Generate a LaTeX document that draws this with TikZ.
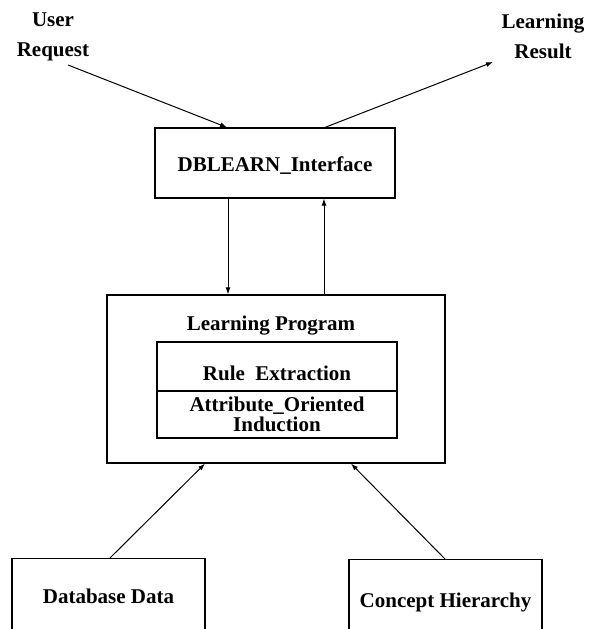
\documentclass[tikz,border=0pt]{standalone}
\usepackage{fontspec}
\setmainfont{Liberation Serif}
\usetikzlibrary{positioning,arrows.meta}

\begin{document}
\begin{tikzpicture}[
		x=1pt, y=-1pt,
		font=\bfseries\fontsize{21}{30}\selectfont,
		>={Latex[length=7pt,width=5pt]},
		box/.style = {draw, line width=1.2pt, rectangle, inner sep=0pt, text depth=0pt},
		txt/.style = {align=center, inner sep=0pt},
		link/.style = {->, line width=1pt}
	]
	\useasboundingbox (0,0) rectangle (591,629);
	\clip (0,0) rectangle (591,629);
	% Top labels.
	\node[txt] (user) at (53,37) {User\\Request};
	\node[txt] (learn) at (543,36) {Learning\\Result};
	\coordinate (req) at (68,65);
	\coordinate (res) at (493,62);
	% Interface.
	\node[box, minimum width=240pt, minimum height=70pt, text height=16pt] (iface) at (275,163) {DBLEARN\_Interface};
	% Learning program.
	\node[box, minimum width=338pt, minimum height=168pt] (prog) at (276,379) {};
	\node[txt, anchor=base] (progtitle) at (271,330) {Learning Program};
	\node[box, minimum width=240pt, minimum height=49pt, text height=27pt] (rule) at (277,366.5) {Rule\ \ Extraction};
	\node[box, minimum width=240pt, minimum height=47pt, align=center] (induct) at (277,414.5) {Attribute\_Oriented\\[-10pt]Induction};
	% Sources.
	\node[box, minimum width=193pt, minimum height=74pt, text height=16pt, anchor=north] (db) at (108.5,558) {Database Data};
	\node[box, minimum width=193pt, minimum height=80pt, text height=16pt, anchor=north] (concept) at (445.5,559) {Concept Hierarchy};

	\draw[link] (req) to ([xshift=-48pt]iface.north);
	\draw[link] ([xshift=50pt]iface.north) to (res);
	\draw[link] ([xshift=-47pt]iface.south) to ([xshift=-47pt]iface.south |- prog.north);
	\draw[link] ([xshift=49pt]iface.south |- prog.north) to ([xshift=49pt]iface.south);
	\draw[link] ([xshift=1.5pt]db.north) to ([xshift=-71pt]prog.south);
	\draw[link] ([xshift=-0.5pt]concept.north) to ([xshift=75pt]prog.south);
\end{tikzpicture}
\end{document}
